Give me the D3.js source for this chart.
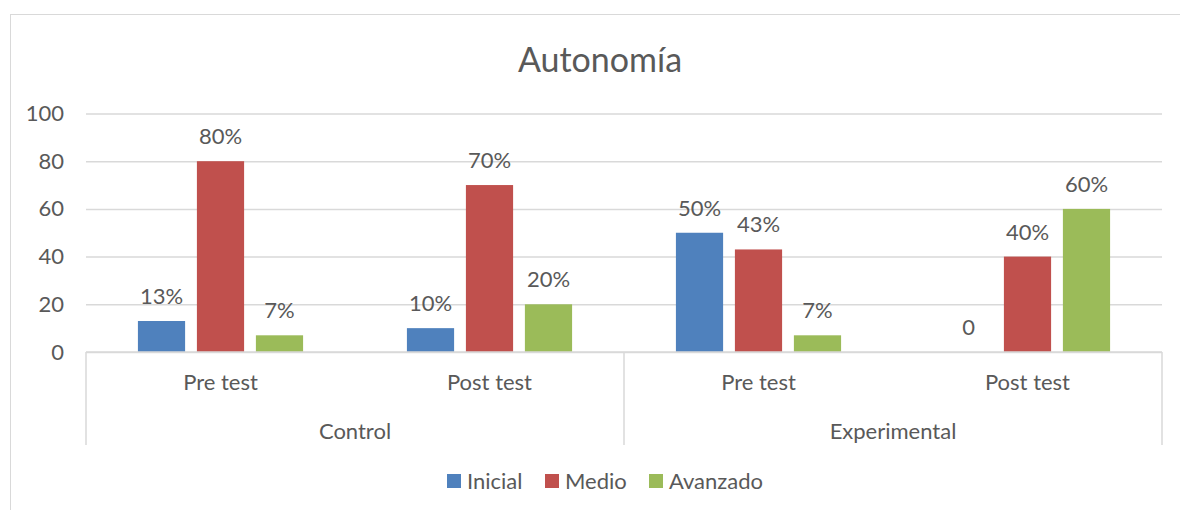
<!DOCTYPE html>
<html lang="es">
<head>
<meta charset="UTF-8">
<script src="https://d3js.org/d3.v7.min.js"></script>
<title>Autonomía</title>
<style>
    body{ margin:0; background:#fff; }
    text{ font-family: Lato, "Open Sans", sans-serif; fill:#595959; }
</style>
</head>
<body>
<script>
    // data
    var groups = ["Control", "Experimental"];
    var tests = ["Pre test", "Post test"];
    var series = ["Inicial", "Medio", "Avanzado"];
    var colors = ["#4F81BD", "#C0504D", "#9BBB59"];
    var inicial  = [13, 10, 50, 0];
    var medio    = [80, 70, 43, 40];
    var avanzado = [7, 20, 7, 60];
    var labels = [
        ["13%", "80%", "7%"],
        ["10%", "70%", "20%"],
        ["50%", "43%", "7%"],
        ["0", "40%", "60%"]
    ];
    var yTicks = [0, 20, 40, 60, 80, 100];

    var width = 1180, height = 510;
    var pLeft = 86, pRight = 1162, pTop = 113.5, pBottom = 352;
    var fs = "22px";

    // one row per category (group + test)
    var cats = [];
    groups.forEach(function(g){ tests.forEach(function(t){ cats.push(g + "|" + t); }); });
    var values = [inicial, medio, avanzado];

    var svg = d3.select("body").append("svg")
        .attr("width", width).attr("height", height);

    // outer chart border
    svg.append("rect").attr("x", 10.5).attr("y", 14.5)
        .attr("width", width).attr("height", height)
        .style("fill", "none").style("stroke", "#d9d9d9");

    svg.append("text").attr("x", 600).attr("y", 72)
        .attr("text-anchor", "middle").style("font-size", "34px")
        .text("Autonomía");

    var y = d3.scaleLinear().domain([0, 100]).range([pBottom, pTop]);
    var x0 = d3.scaleBand().domain(cats).range([pLeft, pRight]);
    var x1 = d3.scaleBand().domain(series).range([0, x0.bandwidth()])
        .paddingInner(0.2).paddingOuter(0.88);
    var xg = d3.scaleBand().domain(groups).range([pLeft, pRight]);

    // gridlines + y labels
    var yAxis = d3.axisLeft(y).tickValues(yTicks).tickSize(-(pRight - pLeft)).tickPadding(22);
    var ga = svg.append("g").attr("transform", "translate(" + pLeft + ",0)").call(yAxis);
    ga.select(".domain").remove();
    ga.selectAll(".tick line").style("stroke", "#d9d9d9").style("stroke-width", 1.5);
    ga.selectAll(".tick text").style("font-size", fs).style("fill", "#595959")
        .attr("font-family", null);

    // bars
    var rows = cats.map(function(c, i){
        return series.map(function(s, j){ return {cat: c, s: s, v: values[j][i], lab: labels[i][j], col: colors[j]}; });
    });
    var cg = svg.selectAll("g.cat").data(rows).enter().append("g").attr("class", "cat")
        .attr("transform", function(d, i){ return "translate(" + x0(cats[i]) + ",0)"; });
    cg.selectAll("rect").data(function(d){ return d; }).enter().append("rect")
        .attr("x", function(d){ return x1(d.s); })
        .attr("width", x1.bandwidth())
        .attr("y", function(d){ return y(d.v); })
        .attr("height", function(d){ return pBottom - y(d.v); })
        .style("fill", function(d){ return d.col; });
    cg.selectAll("text").data(function(d){ return d; }).enter().append("text")
        .attr("x", function(d){ return x1(d.s) + x1.bandwidth() / 2; })
        .attr("y", function(d){ return y(d.v) - 17; })
        .attr("text-anchor", "middle").style("font-size", fs)
        .text(function(d){ return d.lab; });

    // category axis
    svg.append("line").attr("x1", pLeft).attr("x2", pRight).attr("y1", pBottom).attr("y2", pBottom)
        .style("stroke", "#d9d9d9").style("stroke-width", 1.5);
    var seps = [pLeft, xg("Experimental"), pRight];
    svg.selectAll("line.sep").data(seps).enter().append("line").attr("class", "sep")
        .attr("x1", function(d){ return d; }).attr("x2", function(d){ return d; })
        .attr("y1", pBottom).attr("y2", 445)
        .style("stroke", "#d9d9d9").style("stroke-width", 1.5);
    svg.selectAll("text.test").data(cats).enter().append("text").attr("class", "test")
        .attr("x", function(d){ return x0(d) + x0.bandwidth() / 2; })
        .attr("y", 390).attr("text-anchor", "middle").style("font-size", fs)
        .text(function(d){ return d.split("|")[1]; });
    svg.selectAll("text.grp").data(groups).enter().append("text").attr("class", "grp")
        .attr("x", function(d){ return xg(d) + xg.bandwidth() / 2; })
        .attr("y", 439).attr("text-anchor", "middle").style("font-size", fs)
        .text(function(d){ return d; });

    // legend
    var legX = [447, 545, 649];
    var lg = svg.selectAll("g.leg").data(series).enter().append("g").attr("class", "leg")
        .attr("transform", function(d, i){ return "translate(" + legX[i] + ",474)"; });
    lg.append("rect").attr("width", 14).attr("height", 14)
        .style("fill", function(d, i){ return colors[i]; });
    lg.append("text").attr("x", 20).attr("y", 14.5).style("font-size", fs)
        .text(function(d){ return d; });
</script>
</body>
</html>
